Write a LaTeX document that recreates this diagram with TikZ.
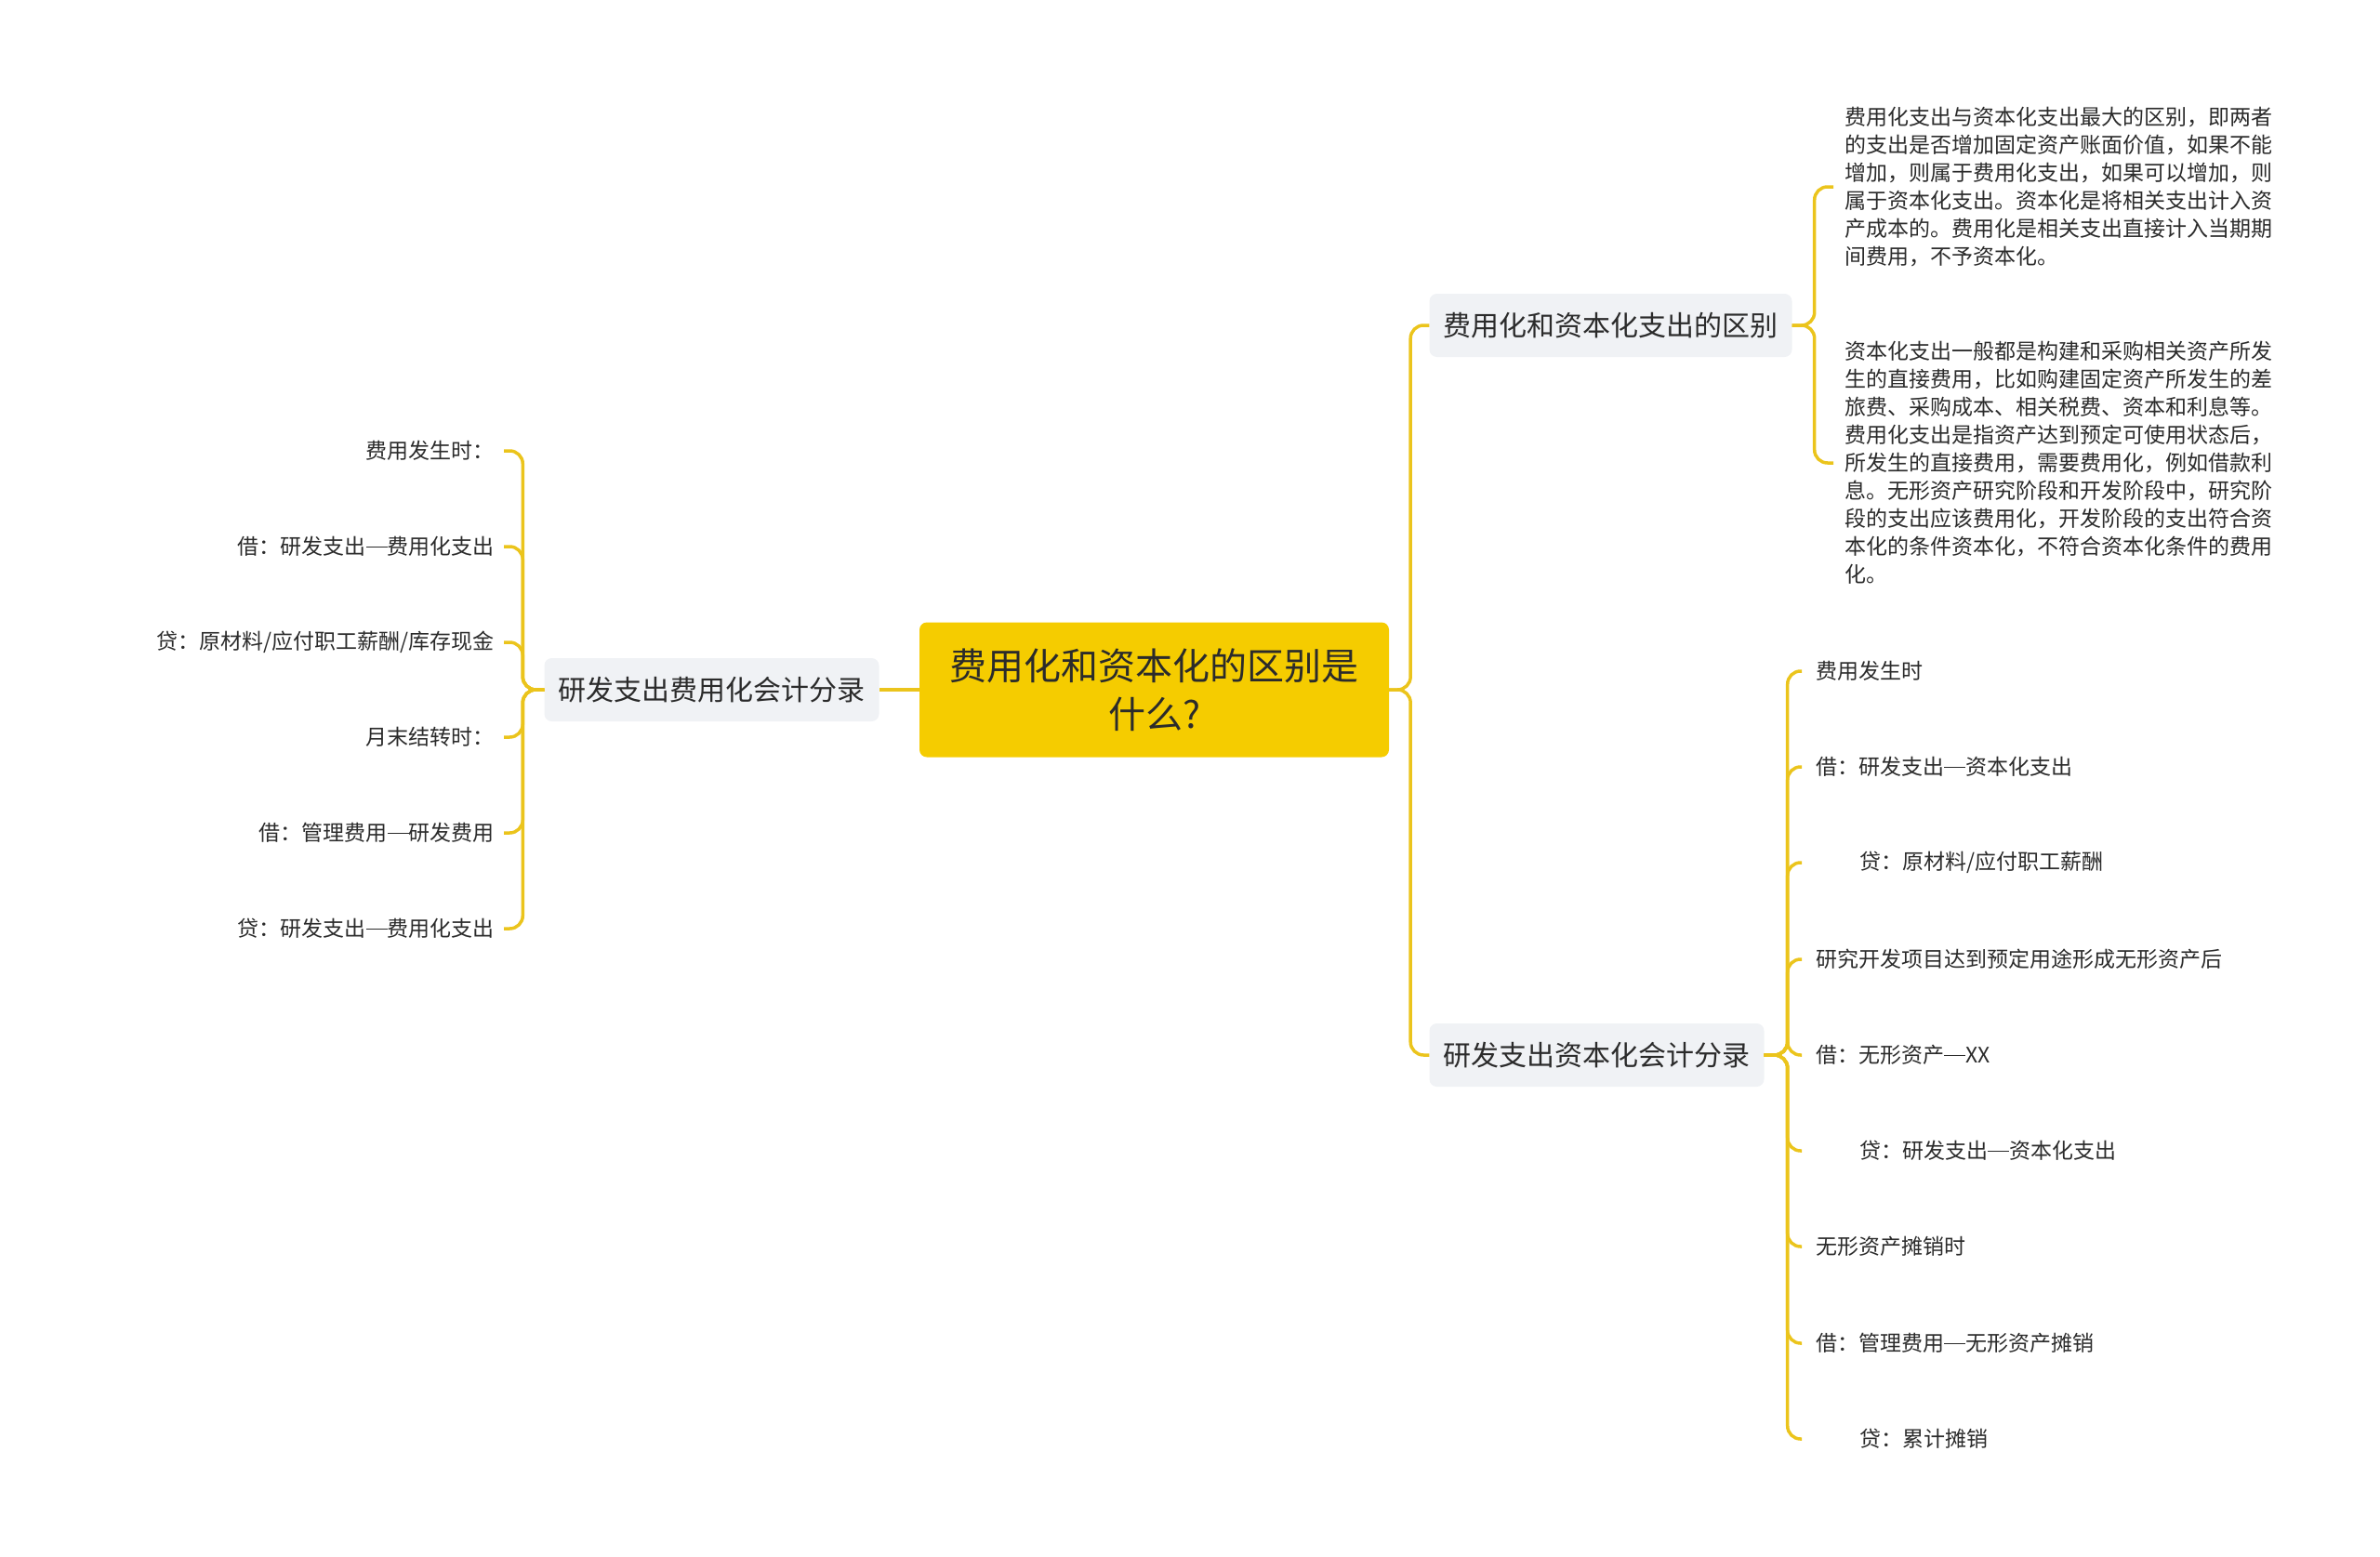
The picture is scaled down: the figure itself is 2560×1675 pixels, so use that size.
\documentclass[tikz,border=0pt]{standalone}
\usepackage{fontspec}
\setmainfont{Noto Sans CJK SC}
\definecolor{lineC}{HTML}{EBC41C}
\definecolor{rootC}{HTML}{F5CC00}
\definecolor{boxC}{HTML}{F0F2F5}
\definecolor{txt}{HTML}{2B2B2B}
\newcommand\cjkdash{\rule[0.33em]{1em}{0.06em}}
\begin{document}
\begin{tikzpicture}[x=1pt,y=-1pt,
  conn/.style={draw=lineC, line width=3.5pt, rounded corners=14pt},
  rootbox/.style={fill=rootC, rounded corners=8pt, minimum width=505pt, minimum height=145pt, align=center, text=txt, font=\fontsize{40}{52}\selectfont},
  branch/.style={fill=boxC, rounded corners=8pt, minimum height=68pt, inner xsep=15pt, text=txt, font=\fontsize{30}{36}\selectfont},
  leafL/.style={anchor=east, inner xsep=10pt, inner ysep=2pt, text=txt, font=\fontsize{23}{30}\selectfont},
  leafR/.style={anchor=west, inner xsep=15pt, inner ysep=2pt, text=txt, font=\fontsize{23}{30}\selectfont},
  para/.style={anchor=west, inner xsep=12pt, inner ysep=2pt, align=left, text=txt, font=\fontsize{23}{30}\selectfont}
]
\useasboundingbox (0,0) rectangle (2560,1675);

% root
\node[rootbox] (C) at (1241.5,742) {费用化和资本化的区别是\\什么?};

% branches
\node[branch, minimum width=359pt] (L) at (765.5,742) {研发支出费用化会计分录};
\node[branch, minimum width=389pt] (R1) at (1732.5,350) {费用化和资本化支出的区别};
\node[branch, minimum width=359pt] (R2) at (1717.5,1135) {研发支出资本化会计分录};

% left leaves
\node[leafL] (l1) at (542,485) {费用发生时：};
\node[leafL] (l2) at (542,588) {借：研发支出\cjkdash 费用化支出};
\node[leafL] (l3) at (542,691) {贷：原材料/应付职工薪酬/库存现金};
\node[leafL] (l4) at (542,793) {月末结转时：};
\node[leafL] (l5) at (542,896) {借：管理费用\cjkdash 研发费用};
\node[leafL] (l6) at (542,999) {贷：研发支出\cjkdash 费用化支出};

% right top paragraphs
\node[para] (t1) at (1972,201) {费用化支出与资本化支出最大的区别，即两者\\的支出是否增加固定资产账面价值，如果不能\\增加，则属于费用化支出，如果可以增加，则\\属于资本化支出。资本化是将相关支出计入资\\产成本的。费用化是相关支出直接计入当期期\\间费用，不予资本化。};
\node[para] (t2) at (1972,498) {资本化支出一般都是构建和采购相关资产所发\\生的直接费用，比如购建固定资产所发生的差\\旅费、采购成本、相关税费、资本和利息等。\\费用化支出是指资产达到预定可使用状态后，\\所发生的直接费用，需要费用化，例如借款利\\息。无形资产研究阶段和开发阶段中，研究阶\\段的支出应该费用化，开发阶段的支出符合资\\本化的条件资本化，不符合资本化条件的费用\\化。};

% right bottom leaves
\node[leafR] (b1) at (1938,722) {费用发生时};
\node[leafR] (b2) at (1938,825) {借：研发支出\cjkdash 资本化支出};
\node[leafR] (b3) at (1938,928) {\hspace*{47pt}贷：原材料/应付职工薪酬};
\node[leafR] (b4) at (1938,1032) {研究开发项目达到预定用途形成无形资产后};
\node[leafR] (b5) at (1938,1135) {借：无形资产\cjkdash XX};
\node[leafR] (b6) at (1938,1238) {\hspace*{47pt}贷：研发支出\cjkdash 资本化支出};
\node[leafR] (b7) at (1938,1341) {无形资产摊销时};
\node[leafR] (b8) at (1938,1445) {借：管理费用\cjkdash 无形资产摊销};
\node[leafR] (b9) at (1938,1548) {\hspace*{47pt}贷：累计摊销};

% connectors root
\draw[conn] (C.west) -- (L.east);
\draw[conn] (C.east) -- ++(23,0) |- (R1.west);
\draw[conn] (C.east) -- ++(23,0) |- (R2.west);

% left
\foreach \n in {l1,l2,l3,l4,l5,l6}
  \draw[conn] (L.west) -- ++(-23,0) |- (\n.east);

% right top
\foreach \n in {t1,t2}
  \draw[conn] (R1.east) -- ++(24,0) |- (\n.west);

% right bottom
\foreach \n in {b1,b2,b3,b4,b5,b6,b7,b8,b9}
  \draw[conn] (R2.east) -- ++(25,0) |- (\n.west);
\end{tikzpicture}
\end{document}
